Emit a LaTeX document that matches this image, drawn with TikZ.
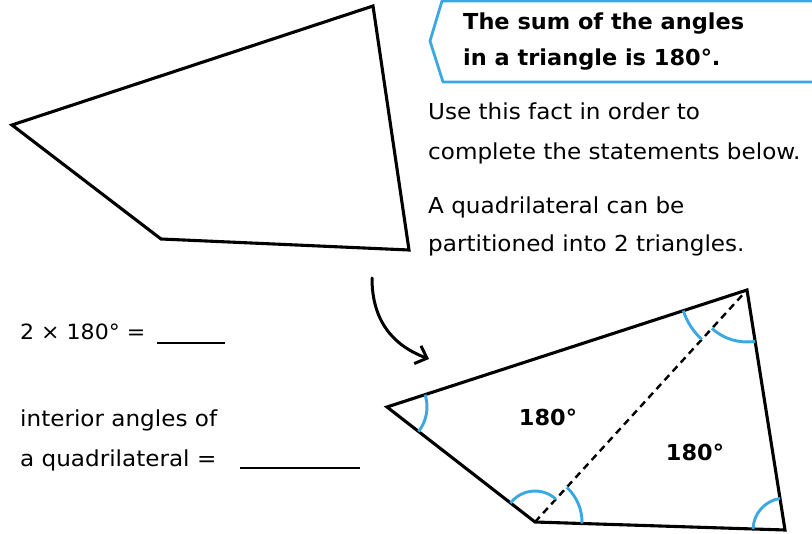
\documentclass[tikz,border=0pt]{standalone}
\usepackage{fontspec}
\setmainfont{DejaVu Sans}[FakeStretch=1.05]
\newfontfamily\hdrfont{DejaVu Sans}[FakeStretch=1.02]
\usetikzlibrary{angles,arrows.meta}
\definecolor{skyb}{RGB}{60,168,226}
\tikzset{
  shape edge/.style={line width=3.1pt, line join=miter, black},
  anglearc/.style={draw=skyb, line width=2.9pt},
  txt/.style={anchor=base west, inner sep=0pt, font=\fontsize{22}{26}\selectfont},
  hdr/.style={anchor=base west, inner sep=0pt, font=\hdrfont\fontsize{22}{26}\selectfont\bfseries},
  blank/.style={line width=2.2pt, black},
}
\begin{document}
\begin{tikzpicture}[x=1pt,y=-1pt]
\useasboundingbox (0,0) rectangle (812,534);
% top quadrilateral
\coordinate (qa) at (12,125);
\coordinate (qb) at (373,6);
\coordinate (qc) at (409,250);
\coordinate (qd) at (161,239);
\draw[shape edge] (qa) -- (qb) -- (qc) -- (qd) -- cycle;
% fact box
\coordinate (f1) at (812,1);
\coordinate (f2) at (442,1);
\coordinate (f3) at (430,41);
\coordinate (f4) at (443,82);
\coordinate (f5) at (812,82);
\draw[skyb, line width=2.8pt, line join=round] (f1) -- (f2) -- (f3) -- (f4) -- (f5);
\node[hdr] (h1) at (463,30) {The sum of the angles};
\node[hdr] (h2) at (463,66) {in a triangle is 180°.};
\node[txt] (t1) at (428,120) {Use this fact in order to};
\node[txt] (t2) at (428,160) {complete the statements below.};
\node[txt] (t3) at (428,214) {A quadrilateral can be};
\node[txt] (t4) at (428,252) {partitioned into 2 triangles.};
% arrow
\coordinate (ar1) at (372,278);
\coordinate (ar2) at (429,359);
\draw[line width=3pt, line cap=round, -{Straight Barb[length=10pt,width=19pt,line width=3pt]}] (ar1) .. controls (372,320) and (392,345) .. (ar2);
% lower quadrilateral
\coordinate (L) at (387,407);
\coordinate (T) at (747,290);
\coordinate (R) at (785,530);
\coordinate (B) at (535,522);
\draw[shape edge] (L) -- (T) -- (R) -- (B) -- cycle;
\draw[line width=2.4pt, dash pattern=on 7pt off 5pt] (B) -- (T);
\pic[anglearc, angle radius=40pt] {angle = B--L--T};
\pic[anglearc, angle radius=67pt] {angle = L--T--B};
\pic[anglearc, angle radius=52pt] {angle = B--T--R};
\pic[anglearc, angle radius=31pt] {angle = T--B--L};
\pic[anglearc, angle radius=47pt] {angle = R--B--T};
\pic[anglearc, angle radius=32pt] {angle = T--R--B};
\node[font=\hdrfont\fontsize{22}{26}\selectfont\bfseries, inner sep=0pt] (s1) at (548,417) {180°};
\node[font=\hdrfont\fontsize{22}{26}\selectfont\bfseries, inner sep=0pt] (s2) at (695,452) {180°};
% statements
\node[txt, font=\fontsize{21}{26}\selectfont] (e1) at (20,340) {2 × 180° =};
\coordinate (b1s) at (157,343);
\coordinate (b1e) at (225,343);
\draw[blank] (b1s) -- (b1e);
\node[txt] (e2) at (20,427) {interior angles of};
\node[txt] (e3) at (20,467) {a quadrilateral =};
\coordinate (b2s) at (240,468);
\coordinate (b2e) at (360,468);
\draw[blank] (b2s) -- (b2e);
\end{tikzpicture}
\end{document}
